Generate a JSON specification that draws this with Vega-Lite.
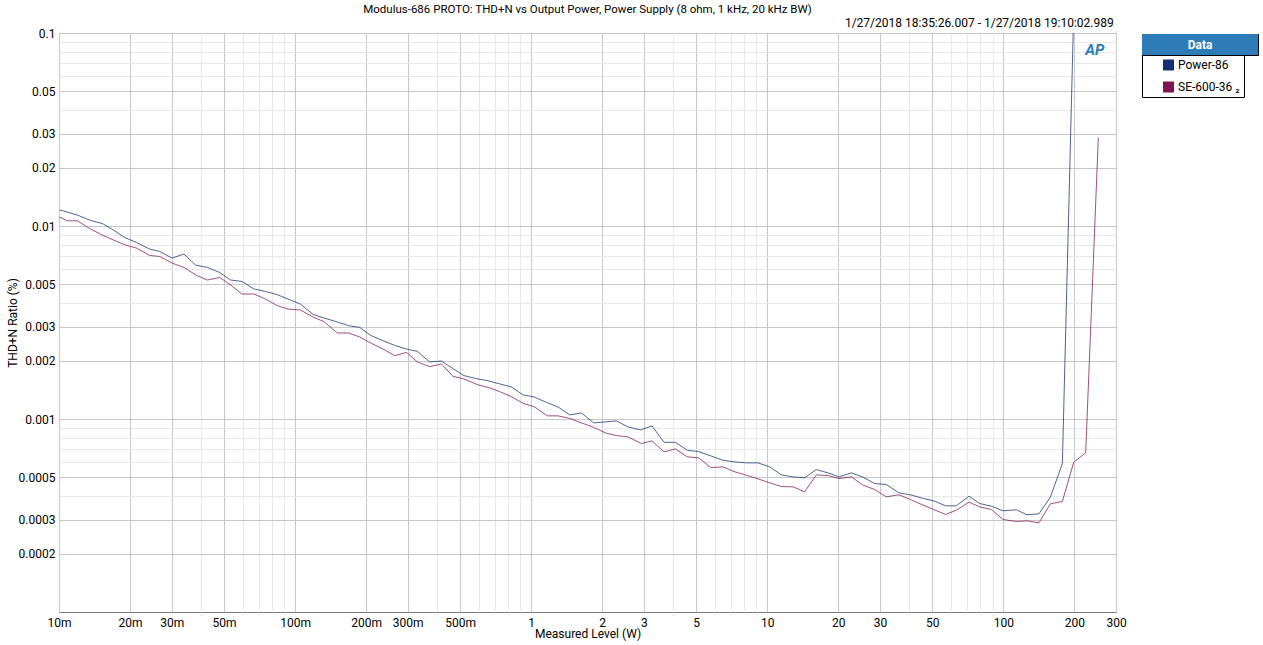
{
  "$schema": "https://vega.github.io/schema/vega-lite/v6.json",
  "width": 1057,
  "height": 579,
  "autosize": {"type": "none"},
  "padding": {"left": 59, "top": 33, "right": 147, "bottom": 33},
  "background": "white",
  "config": {
    "font": "Roboto",
    "view": {"stroke": "#7a7a7a", "strokeWidth": 1},
    "axis": {
      "labelFont": "Roboto", "labelFontSize": 12, "labelColor": "#000",
      "titleFont": "Roboto", "titleFontSize": 12, "titleFontWeight": "normal", "titleColor": "#000",
      "ticks": false, "tickSize": 0, "domain": false, "labelFlush": false, "labelOverlap": false, "grid": true
    },
    "legend": {"labelFont": "Roboto", "labelFontSize": 12, "labelColor": "#000"}
  },
  "title": {
    "text": "Modulus-686 PROTO: THD+N vs Output Power, Power Supply (8 ohm, 1 kHz, 20 kHz BW)",
    "anchor": "middle", "frame": "group", "font": "Roboto", "fontSize": 11.5, "fontWeight": "normal",
    "color": "#000", "baseline": "alphabetic", "offset": -8
  },
  "layer": [
    {
      "data": {"values": [
        {"series":"Power-86","power":0.01007,"thdn":0.01213},{"series":"Power-86","power":0.01197,"thdn":0.01139},{"series":"Power-86","power":0.01362,"thdn":0.01068},{"series":"Power-86","power":0.01527,"thdn":0.0103},{"series":"Power-86","power":0.01693,"thdn":0.009558},{"series":"Power-86","power":0.01898,"thdn":0.008719},{"series":"Power-86","power":0.02127,"thdn":0.008215},{"series":"Power-86","power":0.02422,"thdn":0.007594},{"series":"Power-86","power":0.0267,"thdn":0.00738},{"series":"Power-86","power":0.03011,"thdn":0.006822},{"series":"Power-86","power":0.03384,"thdn":0.007155},{"series":"Power-86","power":0.03783,"thdn":0.006275},{"series":"Power-86","power":0.04253,"thdn":0.006098},{"series":"Power-86","power":0.04794,"thdn":0.005744},{"series":"Power-86","power":0.05336,"thdn":0.005248},{"series":"Power-86","power":0.05958,"thdn":0.005161},{"series":"Power-86","power":0.06698,"thdn":0.004715},{"series":"Power-86","power":0.07484,"thdn":0.004582},{"series":"Power-86","power":0.08416,"thdn":0.004405},{"series":"Power-86","power":0.09332,"thdn":0.004185},{"series":"Power-86","power":0.1053,"thdn":0.003942},{"series":"Power-86","power":0.1191,"thdn":0.003483},{"series":"Power-86","power":0.1326,"thdn":0.003337},{"series":"Power-86","power":0.1511,"thdn":0.003181},{"series":"Power-86","power":0.1687,"thdn":0.003044},{"series":"Power-86","power":0.1878,"thdn":0.002983},{"series":"Power-86","power":0.209,"thdn":0.002712},{"series":"Power-86","power":0.2357,"thdn":0.002545},{"series":"Power-86","power":0.2642,"thdn":0.002406},{"series":"Power-86","power":0.2961,"thdn":0.002305},{"series":"Power-86","power":0.3296,"thdn":0.00224},{"series":"Power-86","power":0.3717,"thdn":0.001975},{"series":"Power-86","power":0.4165,"thdn":0.001998},{"series":"Power-86","power":0.4666,"thdn":0.001823},{"series":"Power-86","power":0.5194,"thdn":0.001678},{"series":"Power-86","power":0.5861,"thdn":0.001619},{"series":"Power-86","power":0.6525,"thdn":0.00158},{"series":"Power-86","power":0.7356,"thdn":0.00152},{"series":"Power-86","power":0.8244,"thdn":0.001466},{"series":"Power-86","power":0.9234,"thdn":0.001333},{"series":"Power-86","power":1.028,"thdn":0.001301},{"series":"Power-86","power":1.16,"thdn":0.00122},{"series":"Power-86","power":1.299,"thdn":0.001155},{"series":"Power-86","power":1.456,"thdn":0.00105},{"series":"Power-86","power":1.632,"thdn":0.001075},{"series":"Power-86","power":1.84,"thdn":0.0009546},{"series":"Power-86","power":2.062,"thdn":0.000966},{"series":"Power-86","power":2.296,"thdn":0.0009776},{"series":"Power-86","power":2.57,"thdn":0.0009098},{"series":"Power-86","power":2.909,"thdn":0.0008778},{"series":"Power-86","power":3.249,"thdn":0.0009207},{"series":"Power-86","power":3.653,"thdn":0.0007574},{"series":"Power-86","power":4.081,"thdn":0.0007574},{"series":"Power-86","power":4.587,"thdn":0.0006885},{"series":"Power-86","power":5.122,"thdn":0.000678},{"series":"Power-86","power":5.76,"thdn":0.0006441},{"series":"Power-86","power":6.494,"thdn":0.0006112},{"series":"Power-86","power":7.227,"thdn":0.0005996},{"series":"Power-86","power":8.155,"thdn":0.0005925},{"series":"Power-86","power":9.133,"thdn":0.0005925},{"series":"Power-86","power":10.24,"thdn":0.0005649},{"series":"Power-86","power":11.48,"thdn":0.0005135},{"series":"Power-86","power":12.86,"thdn":0.0005014},{"series":"Power-86","power":14.4,"thdn":0.0004955},{"series":"Power-86","power":16.14,"thdn":0.000547},{"series":"Power-86","power":18.07,"thdn":0.0005259},{"series":"Power-86","power":20.13,"thdn":0.0005014},{"series":"Power-86","power":22.71,"thdn":0.0005259},{"series":"Power-86","power":25.3,"thdn":0.0005014},{"series":"Power-86","power":28.5,"thdn":0.000463},{"series":"Power-86","power":31.95,"thdn":0.0004575},{"series":"Power-86","power":36.13,"thdn":0.0004145},{"series":"Power-86","power":40.38,"thdn":0.0004047},{"series":"Power-86","power":45.4,"thdn":0.0003887},{"series":"Power-86","power":50.68,"thdn":0.0003768},{"series":"Power-86","power":56.97,"thdn":0.000355},{"series":"Power-86","power":63.23,"thdn":0.000355},{"series":"Power-86","power":71.51,"thdn":0.0003981},{"series":"Power-86","power":79.36,"thdn":0.0003649},{"series":"Power-86","power":88.97,"thdn":0.0003533},{"series":"Power-86","power":99.61,"thdn":0.0003345},{"series":"Power-86","power":113.5,"thdn":0.0003385},{"series":"Power-86","power":125.9,"thdn":0.0003189},{"series":"Power-86","power":141.5,"thdn":0.0003227},{"series":"Power-86","power":158.2,"thdn":0.0003934},{"series":"Power-86","power":177.8,"thdn":0.0005876},{"series":"Power-86","power":205,"thdn":0.6},
        {"series":"SE-600-36 ₂","power":0.01007,"thdn":0.01112},{"series":"SE-600-36 ₂","power":0.01085,"thdn":0.01064},{"series":"SE-600-36 ₂","power":0.01197,"thdn":0.01064},{"series":"SE-600-36 ₂","power":0.01362,"thdn":0.009638},{"series":"SE-600-36 ₂","power":0.01527,"thdn":0.008972},{"series":"SE-600-36 ₂","power":0.01693,"thdn":0.008483},{"series":"SE-600-36 ₂","power":0.01898,"thdn":0.007992},{"series":"SE-600-36 ₂","power":0.02127,"thdn":0.007685},{"series":"SE-600-36 ₂","power":0.02422,"thdn":0.007036},{"series":"SE-600-36 ₂","power":0.0267,"thdn":0.006953},{"series":"SE-600-36 ₂","power":0.03011,"thdn":0.006426},{"series":"SE-600-36 ₂","power":0.03384,"thdn":0.006098},{"series":"SE-600-36 ₂","power":0.03783,"thdn":0.005589},{"series":"SE-600-36 ₂","power":0.04253,"thdn":0.005248},{"series":"SE-600-36 ₂","power":0.04794,"thdn":0.005412},{"series":"SE-600-36 ₂","power":0.05336,"thdn":0.004943},{"series":"SE-600-36 ₂","power":0.05958,"thdn":0.004442},{"series":"SE-600-36 ₂","power":0.06698,"thdn":0.004442},{"series":"SE-600-36 ₂","power":0.07484,"thdn":0.004185},{"series":"SE-600-36 ₂","power":0.08416,"thdn":0.003863},{"series":"SE-600-36 ₂","power":0.09332,"thdn":0.003714},{"series":"SE-600-36 ₂","power":0.1053,"thdn":0.00367},{"series":"SE-600-36 ₂","power":0.1191,"thdn":0.003377},{"series":"SE-600-36 ₂","power":0.1326,"thdn":0.003193},{"series":"SE-600-36 ₂","power":0.1511,"thdn":0.00279},{"series":"SE-600-36 ₂","power":0.1687,"thdn":0.00279},{"series":"SE-600-36 ₂","power":0.1878,"thdn":0.00266},{"series":"SE-600-36 ₂","power":0.209,"thdn":0.002476},{"series":"SE-600-36 ₂","power":0.2357,"thdn":0.002305},{"series":"SE-600-36 ₂","power":0.2642,"thdn":0.002129},{"series":"SE-600-36 ₂","power":0.2961,"thdn":0.002214},{"series":"SE-600-36 ₂","power":0.3296,"thdn":0.001975},{"series":"SE-600-36 ₂","power":0.3717,"thdn":0.001867},{"series":"SE-600-36 ₂","power":0.4165,"thdn":0.001928},{"series":"SE-600-36 ₂","power":0.4666,"thdn":0.001664},{"series":"SE-600-36 ₂","power":0.5194,"thdn":0.001613},{"series":"SE-600-36 ₂","power":0.5954,"thdn":0.001502},{"series":"SE-600-36 ₂","power":0.6673,"thdn":0.001449},{"series":"SE-600-36 ₂","power":0.7356,"thdn":0.001386},{"series":"SE-600-36 ₂","power":0.8244,"thdn":0.001306},{"series":"SE-600-36 ₂","power":0.9234,"thdn":0.001206},{"series":"SE-600-36 ₂","power":1.028,"thdn":0.001159},{"series":"SE-600-36 ₂","power":1.171,"thdn":0.001038},{"series":"SE-600-36 ₂","power":1.299,"thdn":0.001038},{"series":"SE-600-36 ₂","power":1.456,"thdn":0.001008},{"series":"SE-600-36 ₂","power":1.632,"thdn":0.0009546},{"series":"SE-600-36 ₂","power":1.84,"thdn":0.0009055},{"series":"SE-600-36 ₂","power":2.062,"thdn":0.0008472},{"series":"SE-600-36 ₂","power":2.296,"thdn":0.0008204},{"series":"SE-600-36 ₂","power":2.57,"thdn":0.0008078},{"series":"SE-600-36 ₂","power":2.929,"thdn":0.0007458},{"series":"SE-600-36 ₂","power":3.249,"thdn":0.0007702},{"series":"SE-600-36 ₂","power":3.653,"thdn":0.0006755},{"series":"SE-600-36 ₂","power":4.081,"thdn":0.0007001},{"series":"SE-600-36 ₂","power":4.587,"thdn":0.0006365},{"series":"SE-600-36 ₂","power":5.122,"thdn":0.0006289},{"series":"SE-600-36 ₂","power":5.76,"thdn":0.0005602},{"series":"SE-600-36 ₂","power":6.494,"thdn":0.0005649},{"series":"SE-600-36 ₂","power":7.227,"thdn":0.0005342},{"series":"SE-600-36 ₂","power":8.155,"thdn":0.0005111},{"series":"SE-600-36 ₂","power":9.133,"thdn":0.0004896},{"series":"SE-600-36 ₂","power":10.24,"thdn":0.0004669},{"series":"SE-600-36 ₂","power":11.48,"thdn":0.0004467},{"series":"SE-600-36 ₂","power":12.86,"thdn":0.0004451},{"series":"SE-600-36 ₂","power":14.4,"thdn":0.0004194},{"series":"SE-600-36 ₂","power":16.14,"thdn":0.0005135},{"series":"SE-600-36 ₂","power":18.07,"thdn":0.0005093},{"series":"SE-600-36 ₂","power":20.13,"thdn":0.0004914},{"series":"SE-600-36 ₂","power":22.71,"thdn":0.0005014},{"series":"SE-600-36 ₂","power":25.3,"thdn":0.0004559},{"series":"SE-600-36 ₂","power":28.5,"thdn":0.0004311},{"series":"SE-600-36 ₂","power":31.95,"thdn":0.0003952},{"series":"SE-600-36 ₂","power":36.13,"thdn":0.0004047},{"series":"SE-600-36 ₂","power":40.38,"thdn":0.0003827},{"series":"SE-600-36 ₂","power":45.4,"thdn":0.0003593},{"series":"SE-600-36 ₂","power":50.68,"thdn":0.0003397},{"series":"SE-600-36 ₂","power":56.97,"thdn":0.00032},{"series":"SE-600-36 ₂","power":63.23,"thdn":0.0003368},{"series":"SE-600-36 ₂","power":71.51,"thdn":0.0003706},{"series":"SE-600-36 ₂","power":79.36,"thdn":0.0003508},{"series":"SE-600-36 ₂","power":88.97,"thdn":0.0003397},{"series":"SE-600-36 ₂","power":99.61,"thdn":0.0003015},{"series":"SE-600-36 ₂","power":113.5,"thdn":0.0002944},{"series":"SE-600-36 ₂","power":125.9,"thdn":0.0002968},{"series":"SE-600-36 ₂","power":141.5,"thdn":0.0002898},{"series":"SE-600-36 ₂","power":158.2,"thdn":0.0003636},{"series":"SE-600-36 ₂","power":177.8,"thdn":0.0003738},{"series":"SE-600-36 ₂","power":198.6,"thdn":0.0005968},{"series":"SE-600-36 ₂","power":223.2,"thdn":0.0006675},{"series":"SE-600-36 ₂","power":252.5,"thdn":0.02871}
      ]},
      "mark": {"type": "line", "clip": true, "interpolate": "linear"},
      "encoding": {
        "x": {
          "field": "power", "type": "quantitative",
          "scale": {"type": "log", "domain": [0.01, 300], "nice": false},
          "axis": {
            "title": "Measured Level (W)",
            "values": [0.01,0.02,0.03,0.04,0.05,0.06,0.07,0.08,0.09,0.1,0.2,0.3,0.4,0.5,0.6,0.7,0.8,0.9,1,2,3,4,5,6,7,8,9,10,20,30,40,50,60,70,80,90,100,200,300],
            "labelExpr": "indexof([0.01,0.02,0.03,0.05,0.1,0.2,0.3,0.5], datum.value) >= 0 ? format(datum.value*1000, 'd') + 'm' : (indexof([1,2,3,5,10,20,30,50,100,200,300], datum.value) >= 0 ? format(datum.value, 'd') : '')",
            "gridColor": {"condition": {"test": "indexof([0.01,0.02,0.03,0.05,0.1,0.2,0.3,0.5,1,2,3,5,10,20,30,50,100,200,300], datum.value) >= 0", "value": "#c6c6c6"}, "value": "#e8e8e8"},
            "labelPadding": 5,
            "titleBaseline": "alphabetic",
            "titleY": 25.5
          }
        },
        "y": {
          "field": "thdn", "type": "quantitative",
          "scale": {"type": "log", "domain": [0.0001, 0.1], "nice": false},
          "axis": {
            "title": "THD+N Ratio (%)",
            "values": [0.0002,0.0003,0.0004,0.0005,0.0006,0.0007,0.0008,0.0009,0.001,0.002,0.003,0.004,0.005,0.006,0.007,0.008,0.009,0.01,0.02,0.03,0.04,0.05,0.06,0.07,0.08,0.09,0.1],
            "labelExpr": "indexof([0.0002,0.0003,0.0005,0.001,0.002,0.003,0.005,0.01,0.02,0.03,0.05,0.1], datum.value) >= 0 ? format(datum.value, '~g') : ''",
            "gridColor": {"condition": {"test": "indexof([0.0002,0.0003,0.0005,0.001,0.002,0.003,0.005,0.01,0.02,0.03,0.05,0.1], datum.value) >= 0", "value": "#c6c6c6"}, "value": "#e8e8e8"},
            "labelPadding": 4,
            "titleBaseline": "alphabetic",
            "titleX": -43,
            "titleY": 289.5
          }
        },
        "color": {
          "field": "series", "type": "nominal",
          "scale": {"domain": ["Power-86", "SE-600-36 ₂"], "range": ["#142f74", "#7d1553"]},
          "legend": {
            "orient": "none", "legendX": 1083, "legendY": 22, "title": null,
            "padding": 4, "symbolType": "square", "symbolSize": 4, "symbolStrokeWidth": 9,
            "symbolOffset": 16.5, "labelOffset": 3.5, "clipHeight": 12, "rowPadding": 10,
            "strokeColor": "#000", "fillColor": "#fff", "symbolOpacity": 1
          }
        },
        "strokeWidth": {"value": 1},
        "strokeOpacity": {"value": 0.75}
      }
    },
    {
      "data": {"values": [{"stamp": "1/27/2018 18:35:26.007 - 1/27/2018 19:10:02.989"}]},
      "mark": {"type": "text", "align": "right", "baseline": "alphabetic", "dy": -6.5, "dx": -2.3, "font": "Roboto", "fontSize": 12, "color": "#000"},
      "encoding": {
        "x": {"datum": 300, "type": "quantitative"},
        "y": {"datum": 0.1, "type": "quantitative"},
        "text": {"field": "stamp"}
      }
    },
    {
      "data": {"values": [{"logo": "AP"}]},
      "mark": {"type": "text", "align": "center", "baseline": "middle", "font": "Roboto", "fontSize": 15, "fontStyle": "italic", "fontWeight": "bold"},
      "encoding": {
        "x": {"datum": 244, "type": "quantitative"},
        "y": {"datum": 0.0817, "type": "quantitative"},
        "text": {"field": "logo"},
        "fill": {
          "datum": 0.5, "type": "quantitative",
          "scale": {"domain": [0, 1], "range": ["#2d7cb8", "#2d7cb8"]},
          "legend": {
            "orient": "none", "legendX": 1083, "legendY": 1, "title": null, "padding": 0,
            "direction": "horizontal", "gradientLength": 116, "gradientThickness": 21,
            "gradientStrokeWidth": 0, "values": [0.5], "labelExpr": "'Data'",
            "labelAlign": "center", "labelBaseline": "middle", "labelOffset": -15,
            "labelColor": "#fff", "labelFontWeight": "bold", "labelFontSize": 12,
            "strokeColor": "#000", "fillColor": "#2d7cb8"
          }
        }
      }
    }
  ]
}
